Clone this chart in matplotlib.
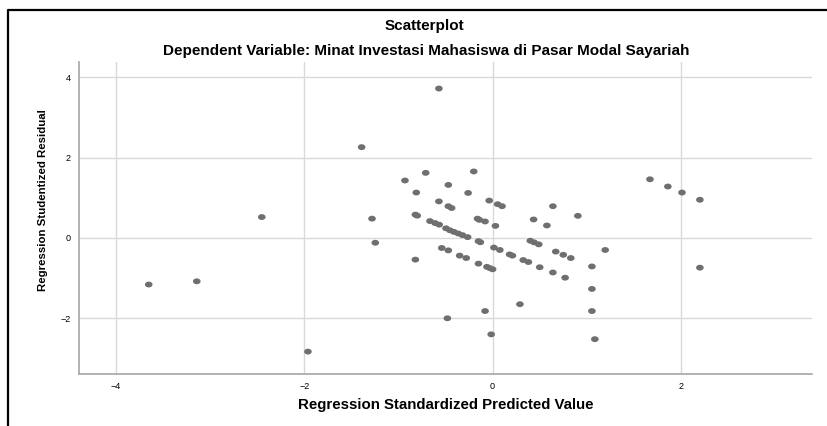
import numpy as np
import matplotlib.pyplot as plt
from matplotlib.lines import Line2D

plt.rcParams['font.family'] = ['Liberation Sans', 'DejaVu Sans']

# Regression standardized predicted value (x) vs studentized residual (y)
pred = [-3.65, -3.14, -2.45, -1.96, -1.28, -1.245,
        -0.57, -1.39, -0.71, -0.93, -0.20, -0.47, -0.81, -0.26, -0.57, -0.036,
        -0.47, -0.435, 0.053, 0.10, 0.64,
        -0.82, -0.80, -0.82, -0.665, -0.61, -0.567,
        -0.495, -0.453, -0.41, -0.365, -0.32, -0.265,
        -0.16, -0.14, -0.08, 0.03, -0.15, -0.13,
        -0.54, -0.47, -0.35, -0.28, -0.15, -0.06, -0.03, 0.0,
        0.014, 0.077, 0.18, 0.21, 0.325, 0.38, 0.50, 0.64, 0.77,
        0.40, 0.44, 0.49, 0.67, 0.75, 0.83,
        0.435, 0.576, 0.905, 1.195, 1.054, 1.054, 1.054, 1.085,
        0.29, -0.08, -0.48, -0.015,
        1.67, 1.86, 2.01, 2.20, 2.20]
resid = [-1.16, -1.08, 0.52, -2.83, 0.48, -0.12,
         3.72, 2.26, 1.62, 1.43, 1.655, 1.32, 1.13, 1.12, 0.91, 0.93,
         0.79, 0.745, 0.84, 0.79, 0.79,
         0.58, 0.555, -0.54, 0.42, 0.37, 0.33,
         0.24, 0.19, 0.15, 0.11, 0.07, 0.02,
         0.48, 0.45, 0.41, 0.30, -0.08, -0.107,
         -0.25, -0.31, -0.44, -0.50, -0.64, -0.72, -0.75, -0.78,
         -0.24, -0.30, -0.41, -0.44, -0.55, -0.60, -0.73, -0.86, -0.99,
         -0.07, -0.11, -0.16, -0.34, -0.42, -0.50,
         0.46, 0.31, 0.55, -0.30, -0.71, -1.27, -1.82, -2.52,
         -1.65, -1.82, -2.0, -2.40,
         1.46, 1.28, 1.13, 0.95, -0.74]

xticks = [-4, -2, 0, 2]
yticks = [-2, 0, 2, 4]

# slightly wide dots, like the stretched spss export
t = np.linspace(0, 2 * np.pi, 40)
dot = np.column_stack([1.3 * np.cos(t), np.sin(t)])

fig = plt.figure(figsize=(8.28, 4.26), dpi=100)
ax = fig.add_axes([79 / 828, 1 - 373.7 / 426, (812 - 79) / 828, (373.7 - 62) / 426])

ax.scatter(pred, resid, s=30, marker=dot, color='#6f6f6f', edgecolors='none', zorder=3)

ax.set_xlim(-4.39, 3.39)
ax.set_ylim(-3.38, 4.38)
ax.set_xticks(xticks)
ax.set_yticks(yticks)
ax.grid(True, color='#d9d9d9', linewidth=1.0)
ax.set_axisbelow(True)
ax.tick_params(length=0, labelsize=6.5, pad=6)
for side in ['top', 'right']:
    ax.spines[side].set_visible(False)
for side in ['left', 'bottom']:
    ax.spines[side].set_color('#a6a6a6')
    ax.spines[side].set_linewidth(1.2)

ax.set_xlabel('Regression Standardized Predicted Value', fontsize=10.8, fontweight='bold')
ax.set_ylabel('Regression Studentized Residual', fontsize=8.2, fontweight='bold')
ax.xaxis.set_label_coords(445.5 / 828, 1 - 405 / 426, transform=fig.transFigure)
ax.yaxis.set_label_coords(43 / 828, 1 - 200 / 426, transform=fig.transFigure)
ax.xaxis.label.set_va('center')
ax.yaxis.label.set_va('center')

fig.text(424 / 828, 1 - 26 / 426, 'Scatterplot', ha='center', va='center',
         fontsize=11, fontweight='bold')
fig.text(426 / 828, 1 - 51 / 426,
         'Dependent Variable: Minat Investasi Mahasiswa di Pasar Modal Sayariah',
         ha='center', va='center', fontsize=11, fontweight='bold')

# outer frame (only top and left edges visible in the crop)
fig.add_artist(Line2D([8.3 / 828, 8.3 / 828, 1.0], [0.0, 1 - 9.5 / 426, 1 - 9.5 / 426],
                      transform=fig.transFigure, color='black', linewidth=1.6))

fig.savefig('out.png', dpi=100)
